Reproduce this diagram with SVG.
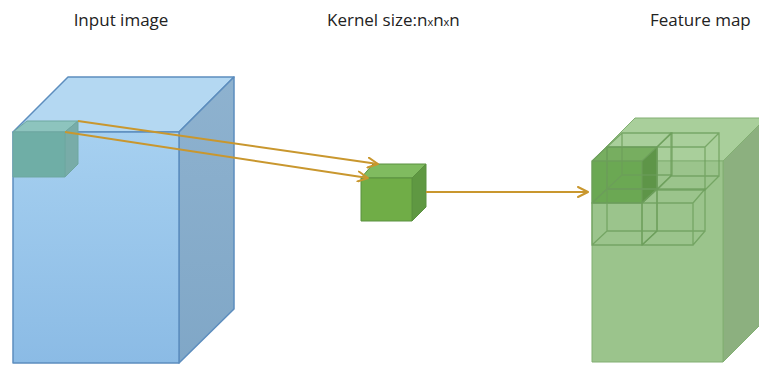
<svg xmlns="http://www.w3.org/2000/svg" width="759" height="365" viewBox="0 0 759 365">
<defs>
<linearGradient id="gBlueFront" x1="0" y1="0" x2="0" y2="1">
<stop offset="0" stop-color="#A6D0F0"/>
<stop offset="1" stop-color="#8BBBE5"/>
</linearGradient>
<linearGradient id="gBlueSide" x1="0" y1="0" x2="0" y2="1">
<stop offset="0" stop-color="#8EB2CF"/>
<stop offset="1" stop-color="#80A7C7"/>
</linearGradient>
<marker id="arr" viewBox="0 0 12 12" refX="11" refY="6" markerWidth="12" markerHeight="12" markerUnits="userSpaceOnUse" orient="auto">
<path d="M1,1 L11,6 L1,11" fill="none" stroke="#C9972E" stroke-width="2" stroke-linecap="round" stroke-linejoin="round"/>
</marker>
</defs>
<style>
.lbl{font-family:"Open Sans","Liberation Sans",sans-serif;font-size:17px;fill:#222}
.blue{stroke:#5C8DBE;stroke-width:1.5;stroke-linejoin:round}
.teal{stroke:#6FA7A0;stroke-width:1;stroke-linejoin:round}
.kern{stroke:#5B9141;stroke-width:1;stroke-linejoin:round}
.fm{stroke:#82AF72;stroke-width:1;stroke-linejoin:round}
.wire{fill:none;stroke:#6C9E5A;stroke-opacity:0.8;stroke-width:1.3}
.conn{fill:none;stroke:#C9972E;stroke-width:2;marker-end:url(#arr)}
</style>

<g id="label-input"><text class="lbl" x="121" y="26" text-anchor="middle">Input image</text></g>
<g id="label-kernel"><text class="lbl" x="327" y="26">Kernel size:n<tspan font-size="11">x</tspan>n<tspan font-size="11">x</tspan>n</text></g>
<g id="label-feature"><text class="lbl" x="650" y="26">Feature map</text></g>

<g id="input-image">
<polygon class="blue" points="13,132 68,77 234,77 179,132" fill="#B4D8F2"/>
<polygon class="blue" points="179,132 234,77 234,309 179,363" fill="url(#gBlueSide)"/>
<rect class="blue" x="13" y="132" width="166" height="231" fill="url(#gBlueFront)"/>
</g>

<g id="input-patch">
<polygon class="teal" points="13,132 27,121 78,121 65,132" fill="#88C2B8" fill-opacity="0.9"/>
<polygon class="teal" points="65,132 78,121 78,164 65,177" fill="#78ACA8"/>
<rect class="teal" x="13" y="132" width="52" height="45" fill="#6FAEA6"/>
</g>

<g id="kernel">
<polygon class="kern" points="361,178 373,164 426,164 412,178" fill="#80BB60"/>
<polygon class="kern" points="412,178 426,164 426,207 412,221" fill="#5F9842"/>
<rect class="kern" x="361" y="178" width="51" height="43" fill="#70AD47"/>
</g>

<g id="feature-map">
<polygon class="fm" points="592,161 635,118 766,118 723,161" fill="#A9CF9B"/>
<polygon class="fm" points="723,161 766,118 766,319 723,362" fill="#8CB07F"/>
<rect class="fm" x="592" y="161" width="131" height="201" fill="#9BC48C"/>
<polygon points="592,161 607,147 657,147 642,161" fill="#6EA856" fill-opacity="0.85"/>
<polygon points="642,161 657,147 657,189 642,203" fill="#5E9548"/>
<rect x="592" y="161" width="50" height="42" fill="#6BA853"/>
<g class="wire">
<path d="M592,161 h50 v42 h-50 z M607,147 h50 v42 h-50 z M592,161 l15,-14 M642,161 l15,-14 M642,203 l15,-14 M592,203 l15,-14"/>
<path d="M607,147 h50 v42 h-50 z M622,133 h50 v42 h-50 z M607,147 l15,-14 M657,147 l15,-14 M657,189 l15,-14 M607,189 l15,-14"/>
<path d="M657,147 h48 v43 h-48 z M671,133 h48 v43 h-48 z M657,147 l14,-14 M705,147 l14,-14 M705,190 l14,-14 M657,190 l14,-14"/>
<path d="M592,203 h50 v42 h-50 z M607,189 h50 v42 h-50 z M592,203 l15,-14 M642,203 l15,-14 M642,245 l15,-14 M592,245 l15,-14"/>
<path d="M642,203 h51 v42 h-51 z M657,189 h48 v42 h-48 z M642,203 l15,-14 M693,203 l12,-14 M693,245 l12,-14 M642,245 l15,-14"/>
</g>
</g>

<g id="connectors">
<line class="conn" x1="78" y1="121" x2="378" y2="164"/>
<line class="conn" x1="65" y1="132" x2="368" y2="178"/>
<line class="conn" x1="426" y1="192" x2="588" y2="192"/>
</g>
</svg>
